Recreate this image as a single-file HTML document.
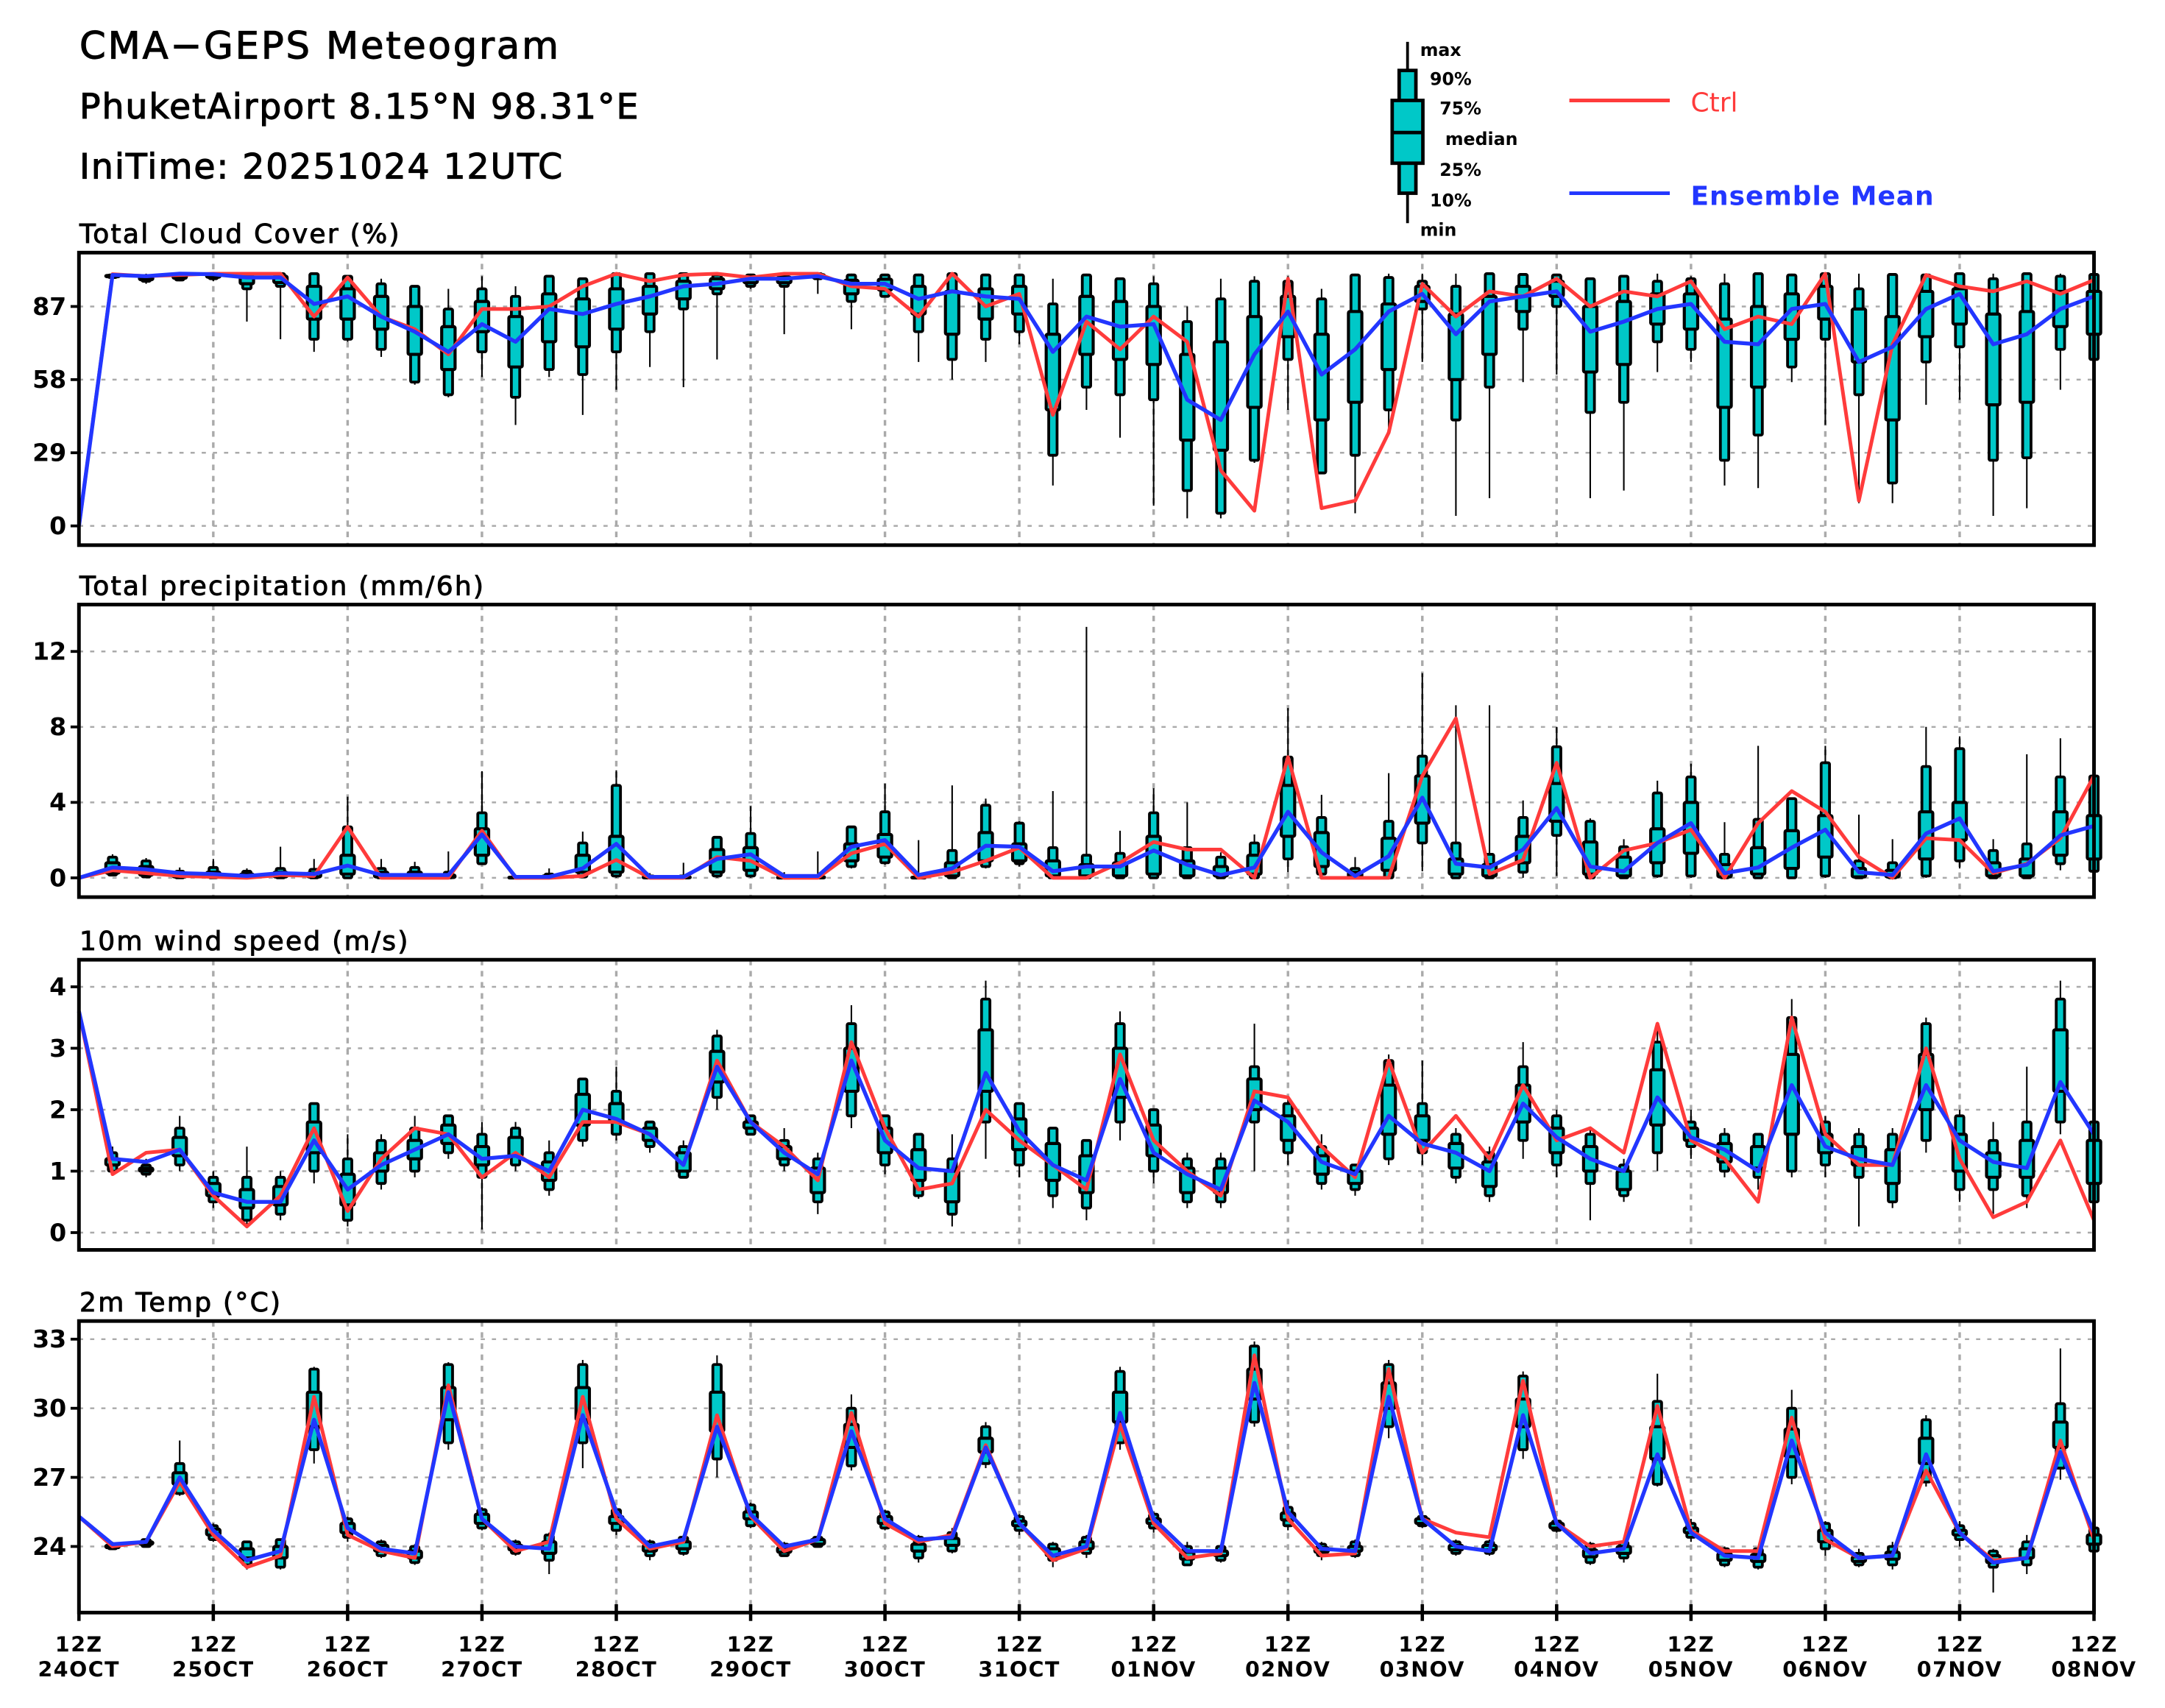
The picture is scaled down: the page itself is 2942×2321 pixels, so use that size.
<!DOCTYPE html>
<html><head><meta charset="utf-8"><style>
html,body{margin:0;padding:0;background:#fff;}
svg{display:block;}
text{font-family:"DejaVu Sans","Liberation Sans",sans-serif;}
</style></head><body>
<svg id="chart" width="2942" height="2321" viewBox="0 0 1552 1224.4" preserveAspectRatio="none" xmlns="http://www.w3.org/2000/svg">
<text x="57" y="42" font-size="27" letter-spacing="1.5" stroke="#000" stroke-width="0.6">CMA−GEPS Meteogram</text>
<text x="57" y="85" font-size="25" letter-spacing="1" stroke="#000" stroke-width="0.6">PhuketAirport 8.15°N 98.31°E</text>
<text x="57" y="128" font-size="25" letter-spacing="1" stroke="#000" stroke-width="0.6">IniTime: 20251024 12UTC</text>
<g id="legend">
<line x1="1009" y1="30" x2="1009" y2="160" stroke="#000" stroke-width="2"/>
<rect x="1003" y="50.5" width="12" height="88" fill="#00c8c8" stroke="#000" stroke-width="2.5"/>
<rect x="998" y="72" width="22" height="45" fill="#00c8c8" stroke="#000" stroke-width="2.5"/>
<line x1="998" y1="95" x2="1020" y2="95" stroke="#000" stroke-width="2.5"/>
<g font-size="12.5" font-weight="bold">
<text x="1018" y="40">max</text>
<text x="1025" y="61">90%</text>
<text x="1032" y="82">75%</text>
<text x="1036" y="104">median</text>
<text x="1032" y="126">25%</text>
<text x="1025" y="148">10%</text>
<text x="1018" y="169">min</text>
</g>
<line x1="1125" y1="72" x2="1197" y2="72" stroke="#ff3b3b" stroke-width="2.6"/>
<text x="1212" y="80" font-size="19" fill="#ff3b3b">Ctrl</text>
<line x1="1125" y1="138.5" x2="1197" y2="138.5" stroke="#2236ff" stroke-width="2.6"/>
<text x="1212" y="147" font-size="19" font-weight="bold" fill="#2236ff" letter-spacing="0.5">Ensemble Mean</text>
</g>
</svg>
<script>
// ---- Cloud cover (%) ----
const cloudCtrl=[0,99.8,99,99.5,100,100,100,83,98.5,83,78,68,86,86,87,95,100,97,99.5,100,98.5,100,100,95,94,83,100,87,92,44,81,70,83,73,22,6,98,7,10,37,96,83,93,91,98,87,93,91,97,78,83,80,100,10,72,99.5,95,93,97,92,97.5];
const cloudMean=[0,99.5,99,100,99.8,98.5,98.5,88,91,83,77,69,80,73,86,84,88,91,95,96,98,98,99,96,96,90,93,91,90,69,83,79,80,50,42,68,85,60,70,85,92,76,89,91,93,77,81,86,88,73,72,86,88,65,71,86,92,72,76,86,91];
const cloudMax=[null,100,100,100,100,100,100,100,99,98,95,94,99,95,99,98,100,100,100,100,100,100,100,100,100,100,100,100,100,98,100,98,99,87,98,99,99,94,100,100,100,100,100,100,100,98,99.5,100,99,100,100,100,100,100,100,100,100,100,100,100,100];
const cloudP90=[null,99.5,99,100,100,100,100,100,99,96,95,86,94,91,99,98,100,100,100,99.5,99.5,99.5,100,99.5,99.5,99.5,100,99.5,99.5,88,99.5,98,96,81,90,97,97,90,99.5,98.5,97,95,100,99.7,99.5,98,99,97,98,96,100,99.5,100,94,99.7,99.5,100,98,100,99,99.7];
const cloudP75=[null,99.3,98.6,99.5,99.6,99,99,95,94,91,87,79,89,83,92,90,94,95,97,98,98.6,98.6,99.6,97.4,97.8,95,93,94,95,76,91,89,87,68,73,83,91,76,85,88,95,84,91,95,97,87,89,92,92,82,87,92,95,86,83,93,94,84,85,93,93];
const cloudP25=[null,98.8,97.6,98.2,98.6,96,96.5,82,82,78,68,62,77,63,73,71,78,84,90,94,96.4,96.4,98.6,92,93.5,84,76,82,84,46,68,66,64,34,30,47,75,42,49,62,89,58,68,85,91,61,64,80,78,47,55,74,82,65,42,75,80,48,49,79,76];
const cloudP10=[null,98.5,97,97.5,98,94,95,74,74,70,57,52,69,51,62,60,69,77,86,92,95,95,98,89,91,77,66,74,77,28,55,52,50,14,5,26,66,21,28,46,86,42,55,78,87,45,49,73,70,26,36,63,74,52,17,65,71,26,27,70,66];
const cloudMin=[null,98,96,97,97,81,74,69,73,67,56,51,59,40,59,44,54,63,55,66,94,76,92,78,91,65,58,65,72,16,46,35,8,3,3,25,46,21,5,37,65,4,11,57,60,11,14,61,65,16,15,57,40,9,9,48,50,4,7,54,66];
const cloudTicks=[0,29,58,87];
// ---- Precipitation (mm/6h) ----
const precCtrl=[0,0.4,0.25,0.1,0.05,0,0.15,0.1,2.7,0,0,0,2.5,0,0,0.1,0.95,0,0,1.1,0.9,0,0,1.3,1.8,0,0.3,0.9,1.6,0,0,0.8,1.9,1.5,1.5,0,6.4,0,0,0,5.4,8.45,0.2,0.95,6.1,0,1.45,1.85,2.55,0,2.9,4.6,3.5,1.1,0,2.1,2.0,0.25,0.75,2.1,5.4];
const precMean=[0,0.55,0.45,0.25,0.2,0.1,0.25,0.2,0.65,0.15,0.15,0.15,2.3,0.05,0.05,0.5,1.8,0.05,0.05,1.0,1.25,0.1,0.1,1.65,2.0,0.15,0.5,1.7,1.65,0.35,0.6,0.6,1.45,0.7,0.15,0.55,3.5,1.35,0.1,1.15,4.25,0.75,0.55,1.5,3.7,0.6,0.35,1.85,2.9,0.25,0.55,1.6,2.55,0.3,0.15,2.35,3.15,0.35,0.7,2.25,2.75];
const precMax=[null,1.25,1.05,0.55,1.0,0.5,1.65,1.0,4.3,1.0,0.85,1.4,5.65,0.1,0.5,2.45,5.7,0.25,0.8,2.2,3.8,0.3,1.4,2.75,5.0,2.0,4.9,4.2,3.0,4.6,13.3,2.5,4.75,4.0,1.35,2.3,9.0,4.4,1.1,5.55,10.85,9.15,9.15,4.1,8.0,3.15,2.05,5.15,6.05,2.95,7.0,4.2,7.0,3.35,2.05,8.0,7.5,2.05,6.55,7.4,5.4];
const precP90=[null,1.1,0.9,0.35,0.55,0.35,0.5,0.45,2.7,0.5,0.55,0.3,3.45,0.05,0.2,1.85,4.9,0.1,0.1,2.15,2.35,0.05,0.1,2.7,3.5,0.05,1.45,3.85,2.9,1.6,1.2,1.3,3.45,1.6,1.1,1.85,6.4,3.2,0.5,3.0,6.45,1.85,1.25,3.2,6.95,3.0,1.65,4.5,5.35,1.25,3.1,4.2,6.1,0.9,0.8,5.9,6.85,1.45,1.8,5.35,5.4];
const precP75=[null,0.8,0.6,0.2,0.3,0.2,0.3,0.25,1.2,0.3,0.3,0.15,2.6,0.03,0.1,1.2,2.2,0.05,0.05,1.5,1.6,0.03,0.05,1.8,2.3,0.03,0.8,2.4,1.8,0.9,0.7,0.8,2.2,0.9,0.6,1.2,4.9,2.4,0.3,2.1,5.4,1.0,0.7,2.2,5.0,1.9,1.1,2.6,4.0,0.7,1.6,2.5,3.3,0.5,0.4,3.5,4.0,0.8,1.0,3.5,3.3];
const precP25=[null,0.25,0.15,0.05,0.05,0.05,0.05,0.05,0.2,0.05,0.05,0.02,1.2,0,0,0.3,0.3,0,0,0.3,0.4,0,0,0.9,1.1,0,0.1,0.9,0.9,0.1,0.1,0.1,0.2,0.1,0.1,0.2,2.2,0.6,0.05,0.4,2.9,0.2,0.1,0.8,3.0,0.2,0.1,0.8,1.3,0.05,0.2,0.5,1.1,0.05,0.05,1.0,2.0,0.1,0.1,1.2,1.0];
const precP10=[null,0.15,0.05,0,0,0,0,0,0,0,0,0,0.75,0,0,0.05,0.1,0,0,0.1,0.1,0,0,0.6,0.8,0,0,0.6,0.75,0,0,0,0,0,0,0,1.0,0.2,0,0,1.85,0,0,0.3,2.25,0,0,0.1,0.1,0,0,0,0.1,0,0,0.1,0.9,0,0,0.75,0.35];
const precMin=[null,0.1,0,0,0,0,0,0,0,0,0,0,0.7,0,0,0,0,0,0,0,0,0,0,0.5,0.7,0,0,0.5,0.6,0,0,0,0,0,0,0,0.3,0,0,0,0.35,0,0,0,0.1,0,0,0,0,0,0,0,0,0,0,0,0.5,0,0,0.4,0.2];
const precTicks=[0,4,8,12];
// ---- 10m wind speed (m/s) ----
const windCtrl=[3.6,0.95,1.3,1.35,0.6,0.1,0.6,1.7,0.35,1.2,1.7,1.6,0.9,1.3,0.9,1.8,1.8,1.6,1.1,2.8,1.8,1.4,0.85,3.1,1.7,0.7,0.8,2.0,1.5,1.1,0.7,2.9,1.5,1.0,0.6,2.3,2.2,1.4,0.9,2.8,1.3,1.9,1.2,2.4,1.5,1.7,1.3,3.4,1.5,1.2,0.5,3.5,1.6,1.1,1.1,3.0,1.2,0.25,0.5,1.5,0.2];
const windMean=[3.6,1.2,1.15,1.35,0.65,0.5,0.5,1.5,0.7,1.1,1.35,1.6,1.2,1.25,1.0,2.0,1.85,1.6,1.1,2.7,1.8,1.3,0.95,2.8,1.5,1.05,1.0,2.6,1.65,1.1,0.85,2.5,1.3,0.95,0.7,2.15,1.8,1.15,0.95,1.9,1.45,1.3,1.0,2.1,1.55,1.2,1.0,2.2,1.55,1.35,1.0,2.4,1.4,1.2,1.1,2.4,1.5,1.15,1.05,2.45,1.6];
const windMax=[null,1.4,1.2,1.9,1.0,1.4,1.0,2.1,1.6,1.6,1.9,1.9,1.8,1.8,1.5,2.4,2.7,1.8,1.5,3.3,1.9,1.7,1.3,3.7,1.9,1.6,1.6,4.1,2.1,1.7,1.5,3.6,2.0,1.3,1.3,3.4,2.2,1.6,1.1,2.9,2.8,1.7,1.4,3.1,2.0,1.7,1.2,3.4,2.0,1.7,1.6,3.8,1.9,1.7,1.7,3.5,2.0,1.8,2.7,4.1,1.9];
const windP90=[null,1.3,1.1,1.7,0.9,0.9,0.9,2.1,1.2,1.5,1.7,1.9,1.6,1.7,1.3,2.5,2.3,1.8,1.4,3.2,1.9,1.5,1.2,3.4,1.9,1.6,1.2,3.8,2.1,1.7,1.5,3.4,2.0,1.2,1.2,2.7,2.1,1.4,1.1,2.8,2.1,1.6,1.3,2.7,1.9,1.6,1.1,3.1,1.8,1.6,1.6,3.5,1.8,1.6,1.6,3.4,1.9,1.5,1.8,3.8,1.8];
const windP75=[null,1.2,1.05,1.55,0.8,0.7,0.75,1.8,0.95,1.3,1.5,1.75,1.4,1.55,1.15,2.25,2.1,1.7,1.3,2.95,1.8,1.4,1.05,3.0,1.7,1.35,1.0,3.3,1.85,1.45,1.25,3.0,1.75,1.05,1.05,2.5,1.9,1.25,1.0,2.4,1.9,1.45,1.15,2.4,1.7,1.4,1.0,2.65,1.7,1.45,1.4,2.9,1.6,1.4,1.35,2.9,1.6,1.3,1.5,3.3,1.5];
const windP25=[null,1.1,1.0,1.25,0.6,0.4,0.45,1.3,0.45,1.0,1.2,1.45,1.1,1.25,0.85,1.75,1.8,1.5,1.0,2.45,1.7,1.2,0.65,2.3,1.3,0.85,0.5,2.3,1.35,0.85,0.65,2.2,1.25,0.65,0.65,2.0,1.5,0.95,0.8,1.6,1.5,1.05,0.75,1.8,1.3,1.0,0.7,1.75,1.5,1.15,1.05,1.6,1.3,1.1,0.8,2.0,1.0,0.9,0.9,2.3,0.8];
const windP10=[null,1.0,0.95,1.1,0.5,0.2,0.3,1.0,0.2,0.8,1.0,1.3,0.9,1.1,0.7,1.5,1.6,1.4,0.9,2.2,1.6,1.1,0.5,1.9,1.1,0.6,0.3,1.8,1.1,0.6,0.4,1.8,1.0,0.5,0.5,1.8,1.3,0.8,0.7,1.2,1.3,0.9,0.6,1.5,1.1,0.8,0.6,1.3,1.4,1.0,0.9,1.0,1.1,0.9,0.5,1.5,0.7,0.7,0.6,1.8,0.5];
const windMin=[null,0.95,0.9,1.0,0.4,0.1,0.2,0.8,0.1,0.7,0.9,1.2,0.05,1.0,0.6,1.4,1.5,1.3,0.9,2.0,1.6,1.0,0.3,1.7,0.95,0.55,0.1,1.2,0.9,0.4,0.2,1.5,0.8,0.4,0.4,1.0,1.1,0.7,0.6,1.1,1.1,0.8,0.5,1.2,0.9,0.2,0.5,1.0,1.2,0.9,0.7,0.9,0.9,0.1,0.4,1.3,0.5,0.3,0.4,1.6,0.2];
const windTicks=[0,1,2,3,4];
// ---- 2m temperature (°C) ----
const tempCtrl=[25.3,24.0,24.2,26.8,24.5,23.1,23.6,30.5,24.5,23.8,23.5,31.0,25.2,23.8,24.2,30.5,25.2,23.9,24.2,29.7,25.3,23.8,24.3,29.8,25.0,24.2,24.5,28.4,25.0,23.4,23.9,29.3,25.0,23.5,23.7,32.3,25.2,23.6,23.7,31.7,25.2,24.6,24.4,31.2,25.0,24.0,24.2,30.1,24.7,23.8,23.8,29.6,24.3,23.5,23.6,27.3,24.6,23.4,23.5,28.6,24.3];
const tempMean=[25.3,24.1,24.2,27.0,24.7,23.4,23.8,29.5,24.8,23.9,23.7,30.7,25.2,24.0,23.9,29.7,25.5,24.0,24.3,29.2,25.4,24.0,24.3,29.0,25.2,24.3,24.4,28.3,25.0,23.6,24.0,29.8,25.2,23.8,23.8,31.1,25.5,23.9,23.8,30.5,25.2,24.0,23.8,29.7,25.0,23.7,23.9,28.0,24.6,23.6,23.5,28.6,24.6,23.5,23.6,28.0,24.6,23.3,23.5,28.1,24.6];
const tempMax=[null,24.2,24.3,28.6,25.0,24.2,24.3,31.8,25.3,24.3,24.1,32.0,25.7,24.3,24.6,32.1,25.7,24.3,24.5,32.3,25.9,24.2,24.5,30.6,25.6,24.5,24.8,29.4,25.4,24.2,24.5,31.8,25.5,24.2,24.1,32.9,26.0,24.2,24.3,32.1,25.5,24.3,24.3,31.6,25.2,24.2,24.4,31.5,25.2,24.0,24.0,30.8,25.1,23.9,24.2,29.7,25.1,23.9,24.5,32.6,25.1];
const tempP90=[null,24.1,24.3,27.6,24.9,24.2,24.3,31.7,25.2,24.2,24.0,31.9,25.6,24.2,24.5,31.9,25.6,24.2,24.4,31.9,25.8,24.1,24.4,30.0,25.5,24.4,24.6,29.2,25.3,24.1,24.4,31.6,25.4,24.0,24.0,32.7,25.7,24.1,24.2,31.9,25.3,24.2,24.2,31.4,25.1,24.1,24.2,30.3,25.0,23.9,23.9,30.0,25.0,23.7,24.0,29.5,24.9,23.8,24.2,30.2,24.8];
const tempP75=[null,24.05,24.2,27.2,24.75,23.9,24.0,30.7,25.0,24.05,23.8,30.9,25.4,24.05,24.2,30.9,25.3,24.05,24.2,30.7,25.5,23.95,24.3,29.3,25.3,24.1,24.35,28.7,25.1,23.9,24.2,30.7,25.2,23.75,23.8,31.7,25.45,23.95,24.0,31.1,25.2,24.05,24.05,30.4,25.0,23.85,24.0,29.2,24.8,23.7,23.65,29.1,24.7,23.55,23.75,28.7,24.7,23.6,23.9,29.4,24.5];
const tempP25=[null,23.95,24.1,26.7,24.5,23.5,23.5,29.2,24.6,23.8,23.5,29.5,25.0,23.85,23.7,29.5,25.0,23.8,23.9,29.0,25.2,23.75,24.1,28.3,25.0,23.8,24.05,28.1,24.9,23.6,23.9,29.4,25.0,23.45,23.6,30.4,25.15,23.75,23.8,30.0,25.0,23.85,23.85,29.2,24.8,23.55,23.7,27.8,24.6,23.4,23.35,27.9,24.2,23.35,23.45,27.6,24.5,23.3,23.5,28.3,24.1];
const tempP10=[null,23.9,24.0,26.3,24.3,23.2,23.1,28.2,24.4,23.6,23.3,28.5,24.8,23.7,23.4,28.5,24.7,23.6,23.7,27.8,24.9,23.6,24.0,27.5,24.8,23.5,23.8,27.6,24.7,23.4,23.7,28.5,24.8,23.2,23.4,29.4,24.9,23.6,23.6,29.2,24.9,23.7,23.7,28.2,24.7,23.3,23.5,26.7,24.4,23.2,23.1,27.0,23.9,23.2,23.2,26.8,24.3,23.1,23.2,27.4,23.8];
const tempMin=[null,23.9,24.0,26.2,24.2,23.0,23.0,27.6,24.2,23.5,23.2,28.2,24.7,23.6,22.8,27.4,24.5,23.4,23.6,27.0,24.8,23.6,24.0,27.3,24.7,23.3,23.7,27.4,24.5,23.1,23.5,28.2,24.6,23.2,23.3,29.2,24.7,23.4,23.5,28.7,24.8,23.6,23.6,27.8,24.6,23.2,23.3,26.6,24.2,23.1,23.0,26.7,23.6,23.1,23.0,26.6,24.0,22.0,22.8,26.9,23.6];
const tempTicks=[24,27,30,33];
// ---- x axis ----
const dayLabels=["24OCT","25OCT","26OCT","27OCT","28OCT","29OCT","30OCT","31OCT","01NOV","02NOV","03NOV","04NOV","05NOV","06NOV","07NOV","08NOV"];

const NS="http://www.w3.org/2000/svg";
const svg=document.getElementById('chart');
const X0=56.6, X1=1501.1, NSTEP=60;
function xPos(i){return X0+(X1-X0)*i/NSTEP;}
function mk(tag,attrs,parent){const e=document.createElementNS(NS,tag);for(const k in attrs)e.setAttribute(k,attrs[k]);(parent||svg).appendChild(e);return e;}
function linScale(v0,y0,v1,y1){return v=>y0+(v-v0)*(y1-y0)/(v1-v0);}

const panels=[
 {key:'cloud',title:'Total Cloud Cover (%)',top:181.1,bot:390.8,y:linScale(0,377,87,219.7),ticks:cloudTicks,ctrl:cloudCtrl,mean:cloudMean,mx:cloudMax,p90:cloudP90,p75:cloudP75,p25:cloudP25,p10:cloudP10,mn:cloudMin},
 {key:'precip',title:'Total precipitation (mm/6h)',top:433.4,bot:643.1,y:linScale(0,629.3,12,467),ticks:precTicks,ctrl:precCtrl,mean:precMean,mx:precMax,p90:precP90,p75:precP75,p25:precP25,p10:precP10,mn:precMin},
 {key:'wind',title:'10m wind speed (m/s)',top:688,bot:896,y:linScale(0,883.6,4,707.4),ticks:windTicks,ctrl:windCtrl,mean:windMean,mx:windMax,p90:windP90,p75:windP75,p25:windP25,p10:windP10,mn:windMin},
 {key:'temp',title:'2m Temp (°C)',top:947,bot:1156,y:linScale(24,1108.6,33,960),ticks:tempTicks,ctrl:tempCtrl,mean:tempMean,mx:tempMax,p90:tempP90,p75:tempP75,p25:tempP25,p10:tempP10,mn:tempMin}
];

panels.forEach((p,pi)=>{
  const g=mk('g',{});
  
  
  const t=mk('text',{x:57,y:p.top-7,'font-size':19,'letter-spacing':1.2,stroke:'#000','stroke-width':0.5},g);
  t.textContent=p.title;
  
  
  p.ticks.forEach(v=>{
    const yy=p.y(v);
    const gl=mk('line',{x1:X0,x2:X1,y1:yy,y2:yy,stroke:'#aaa','stroke-width':1.3,'stroke-dasharray':'3,5'},g);
    
    
    const tk=mk('line',{x1:X0-6,x2:X0,y1:yy,y2:yy,stroke:'#000','stroke-width':2},g);
    
    
    const tl=mk('text',{x:X0-9,y:yy+6,'text-anchor':'end','font-size':17.5,'font-weight':'bold'},g);
    tl.textContent=String(v);
    
    
  });
  for(let d=1;d<15;d++){
    const xx=xPos(d*4);
    const vl=mk('line',{x1:xx,x2:xx,y1:p.top,y2:p.bot,stroke:'#aaa','stroke-width':1.8,'stroke-dasharray':'4,4'},g);
    
    
  }
  for(let i=0;i<=NSTEP;i++){
    if(p.mx[i]==null) continue;
    const xx=xPos(i);
    const bg=mk('g',{},g);
    
    
    mk('line',{x1:xx,x2:xx,y1:p.y(p.mx[i]),y2:p.y(p.mn[i]),stroke:'#000','stroke-width':1.1},bg);
    const y90=p.y(p.p90[i]), y10=p.y(p.p10[i]);
    mk('rect',{x:xx-3,y:y90,width:6,height:Math.max(0.5,y10-y90),fill:'#00c8c8',stroke:'#000','stroke-width':2,rx:1},bg);
    const y75=p.y(p.p75[i]), y25=p.y(p.p25[i]);
    mk('rect',{x:xx-4.8,y:y75,width:9.6,height:Math.max(0.5,y25-y75),fill:'#00c8c8',stroke:'#000','stroke-width':2.2,rx:1},bg);
  }
  const lineOf=(arr)=>arr.map((v,i)=>xPos(i).toFixed(2)+','+p.y(v).toFixed(2)).join(' ');
  const lc=mk('polyline',{points:lineOf(p.ctrl),fill:'none',stroke:'#ff3b3b','stroke-width':2.6,'stroke-linejoin':'round'},g);
  
  
  const lm=mk('polyline',{points:lineOf(p.mean),fill:'none',stroke:'#2236ff','stroke-width':2.8,'stroke-linejoin':'round'},g);
  
  
  const fr=mk('rect',{x:X0,y:p.top,width:X1-X0,height:p.bot-p.top,fill:'none',stroke:'#000','stroke-width':2.6},g);
  
  
});

const xg=mk('g',{});


dayLabels.forEach((lab,d)=>{
  const xx=xPos(d*4);
  const tk=mk('line',{x1:xx,x2:xx,y1:1150,y2:1162,stroke:'#000','stroke-width':2.4},xg);
  
  
  const t1=mk('text',{x:xx,y:1184,'text-anchor':'middle','font-size':15,'font-weight':'bold','letter-spacing':0.8},xg);
  t1.textContent='12Z';
  
  
  const t2=mk('text',{x:xx,y:1202,'text-anchor':'middle','font-size':15,'font-weight':'bold','letter-spacing':0.8},xg);
  t2.textContent=lab;
  
  
});
</script>
</body></html>
